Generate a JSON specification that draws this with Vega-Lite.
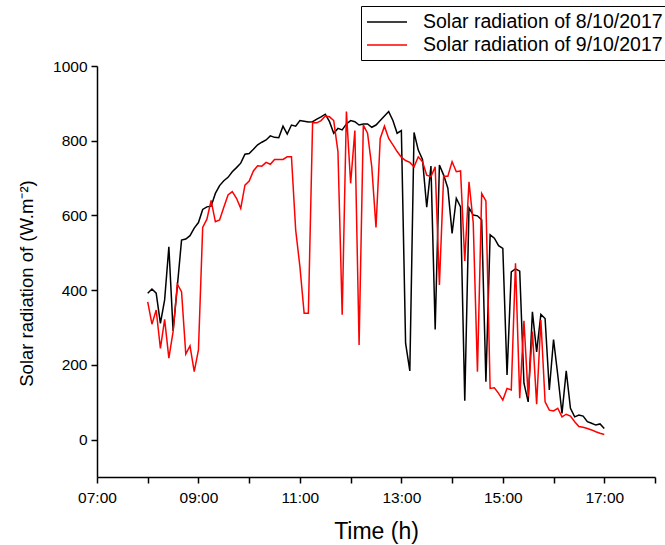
{
  "$schema": "https://vega.github.io/schema/vega-lite/v6.json",
  "width": 558,
  "height": 411,
  "autosize": "none",
  "padding": {"left": 97, "top": 66, "right": 10, "bottom": 68},
  "background": "white",
  "config": {
    "view": {"stroke": null},
    "font": "Liberation Sans",
    "axis": {"grid": false, "domainColor": "black", "tickColor": "black", "labelColor": "black", "titleColor": "black", "labelFont": "Liberation Sans", "titleFont": "Liberation Sans", "titleFontWeight": "normal", "domainWidth": 1.5, "tickWidth": 1.5, "tickSize": 6}
  },
  "data": {
    "values": [
      {"min":480,"a":392,"b":369},{"min":485,"a":403,"b":309},{"min":490,"a":392,"b":347},{"min":495,"a":311,"b":244},
      {"min":500,"a":374,"b":322},{"min":505,"a":516,"b":218},{"min":510,"a":291,"b":289},{"min":515,"a":410,"b":416},
      {"min":520,"a":534,"b":396},{"min":525,"a":537,"b":229},{"min":530,"a":546,"b":251},{"min":535,"a":566,"b":182},
      {"min":540,"a":581,"b":240},{"min":545,"a":616,"b":568},{"min":550,"a":623,"b":590},{"min":555,"a":625,"b":640},
      {"min":560,"a":659,"b":583},{"min":565,"a":680,"b":588},{"min":570,"a":693,"b":622},{"min":575,"a":702,"b":655},
      {"min":580,"a":717,"b":664},{"min":585,"a":728,"b":646},{"min":590,"a":740,"b":619},{"min":595,"a":764,"b":681},
      {"min":600,"a":766,"b":692},{"min":605,"a":777,"b":719},{"min":610,"a":789,"b":733},{"min":615,"a":796,"b":732},
      {"min":620,"a":802,"b":742},{"min":625,"a":813,"b":737},{"min":630,"a":809,"b":750},{"min":635,"a":808,"b":750},
      {"min":640,"a":839,"b":750},{"min":645,"a":818,"b":757},{"min":650,"a":842,"b":757},{"min":655,"a":839,"b":561},
      {"min":660,"a":854,"b":463},{"min":665,"a":852,"b":338},{"min":670,"a":850,"b":338},{"min":675,"a":851,"b":848},
      {"min":680,"a":858,"b":848},{"min":685,"a":864,"b":854},{"min":690,"a":871,"b":866},{"min":695,"a":851,"b":864},
      {"min":700,"a":820,"b":854},{"min":705,"a":833,"b":771},{"min":710,"a":829,"b":334},{"min":715,"a":845,"b":878},
      {"min":720,"a":854,"b":686},{"min":725,"a":851,"b":827},{"min":730,"a":842,"b":253},{"min":735,"a":845,"b":842},
      {"min":740,"a":845,"b":820},{"min":745,"a":836,"b":730},{"min":750,"a":842,"b":568},{"min":755,"a":854,"b":806},
      {"min":760,"a":866,"b":839},{"min":765,"a":878,"b":806},{"min":770,"a":854,"b":789},{"min":775,"a":820,"b":771},
      {"min":780,"a":827,"b":756},{"min":785,"a":258,"b":747},{"min":790,"a":184,"b":742},{"min":795,"a":822,"b":730},
      {"min":800,"a":775,"b":757},{"min":805,"a":750,"b":744},{"min":810,"a":622,"b":708},{"min":815,"a":732,"b":704},
      {"min":820,"a":295,"b":730},{"min":825,"a":735,"b":414},{"min":830,"a":708,"b":705},{"min":835,"a":673,"b":705},
      {"min":840,"a":552,"b":744},{"min":845,"a":646,"b":717},{"min":850,"a":623,"b":719},{"min":855,"a":104,"b":478},
      {"min":860,"a":620,"b":690},{"min":865,"a":601,"b":581},{"min":870,"a":599,"b":182},{"min":875,"a":588,"b":659},
      {"min":880,"a":155,"b":639},{"min":885,"a":548,"b":137},{"min":890,"a":539,"b":139},{"min":895,"a":519,"b":124},
      {"min":900,"a":512,"b":106},{"min":905,"a":173,"b":137},{"min":910,"a":449,"b":133},{"min":915,"a":457,"b":472},
      {"min":920,"a":451,"b":111},{"min":925,"a":151,"b":318},{"min":930,"a":101,"b":115},{"min":935,"a":342,"b":289},
      {"min":940,"a":235,"b":95},{"min":945,"a":335,"b":320},{"min":950,"a":324,"b":101},{"min":955,"a":133,"b":79},
      {"min":960,"a":268,"b":77},{"min":965,"a":173,"b":84},{"min":970,"a":70,"b":61},{"min":975,"a":184,"b":68},
      {"min":980,"a":84,"b":63},{"min":985,"a":61,"b":48},{"min":990,"a":66,"b":35},{"min":995,"a":63,"b":33},
      {"min":1000,"a":48,"b":30},{"min":1005,"a":44,"b":26},{"min":1010,"a":39,"b":21},{"min":1015,"a":42,"b":17},
      {"min":1020,"a":30,"b":14}
    ]
  },
  "transform": [{"fold": ["a", "b"], "as": ["k", "v"]}],
  "mark": {"type": "line", "strokeWidth": 1.5},
  "encoding": {
    "x": {
      "field": "min", "type": "quantitative",
      "scale": {"domain": [420, 1080], "nice": false, "zero": false},
      "axis": {
        "title": "Time (h)", "titleFontSize": 23, "titlePadding": 15,
        "labelFontSize": 15.5, "labelPadding": 7,
        "values": [420, 480, 540, 600, 660, 720, 780, 840, 900, 960, 1020, 1080],
        "labelExpr": "floor(datum.value / 60) % 2 == 1 ? (datum.value < 600 ? '0' : '') + floor(datum.value / 60) + ':00' : ''",
        "labelFlush": false, "labelOverlap": false
      }
    },
    "y": {
      "field": "v", "type": "quantitative",
      "scale": {"domain": [-100, 1000], "nice": false, "zero": false},
      "axis": {
        "title": "Solar radiation of (W.m⁻²)", "titleFontSize": 18.5,
        "titleY": 217, "titleX": -61,
        "values": [0, 200, 400, 600, 800, 1000], "format": "d",
        "labelFontSize": 15.5, "labelPadding": 4
      }
    },
    "color": {
      "field": "k", "type": "nominal",
      "scale": {"domain": ["a", "b"], "range": ["#000000", "#ff0000"]},
      "legend": {
        "title": null, "orient": "none", "legendX": 264, "legendY": -60,
        "strokeColor": "#000000", "fillColor": "white", "padding": 5,
        "symbolType": "M-1,0H3", "symbolSize": 400, "symbolStrokeWidth": 1.5,
        "labelFontSize": 19.5, "labelFont": "Liberation Sans", "labelColor": "black", "labelLimit": 0,
        "labelOffset": 35, "rowPadding": 2,
        "labelExpr": "datum.value == 'a' ? 'Solar radiation of 8/10/2017' : 'Solar radiation of 9/10/2017'"
      }
    }
  }
}
